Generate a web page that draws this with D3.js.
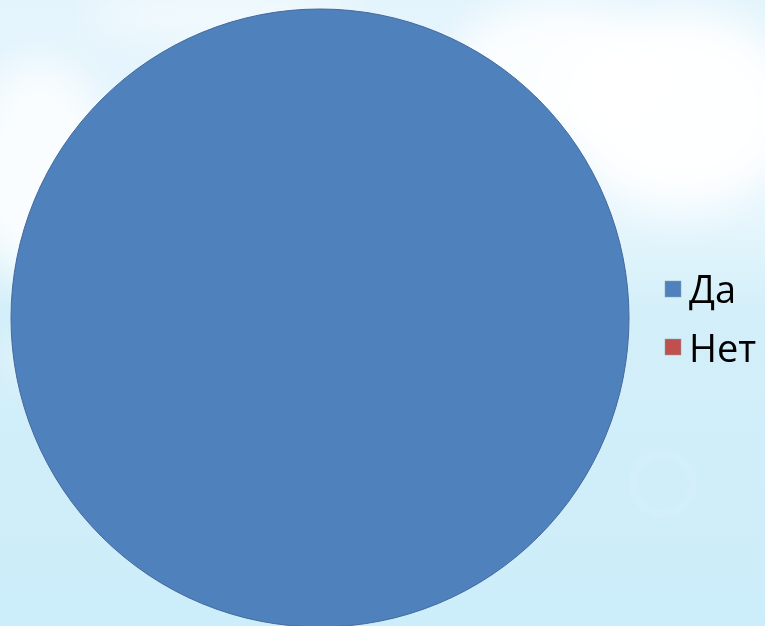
<!DOCTYPE html>
<html>
<head>
<meta charset="utf-8">
<script src="https://cdn.jsdelivr.net/npm/d3@7"></script>
<style>
html,body{margin:0;padding:0;overflow:hidden;}
svg{display:block;}
</style>
</head>
<body>
<div id="chart"></div>
<script>
const categories = ["Да", "Нет"];
const values = [100, 0];
const colors = ["#4f81bd", "#c0504d"];

const W = 765, H = 626;
const svg = d3.select("#chart").append("svg").attr("width", W).attr("height", H);
const defs = svg.append("defs");

// background sky
const bg = defs.append("linearGradient").attr("id", "sky").attr("x1", 0).attr("y1", 0).attr("x2", 0).attr("y2", 1);
bg.append("stop").attr("offset", "0%").attr("stop-color", "#e3f4fc");
bg.append("stop").attr("offset", "35%").attr("stop-color", "#e6f6fd");
bg.append("stop").attr("offset", "50%").attr("stop-color", "#d3eff9");
bg.append("stop").attr("offset", "100%").attr("stop-color", "#ccedfa");
svg.append("rect").attr("width", W).attr("height", H).attr("fill", "url(#sky)");

const blur = defs.append("filter").attr("id", "blur").attr("x", "-50%").attr("y", "-50%").attr("width", "200%").attr("height", "200%");
blur.append("feGaussianBlur").attr("stdDeviation", 20);
const blur2 = defs.append("filter").attr("id", "blur2").attr("x", "-50%").attr("y", "-50%").attr("width", "200%").attr("height", "200%");
blur2.append("feGaussianBlur").attr("stdDeviation", 3);

const clouds = svg.append("g").attr("filter", "url(#blur)");
[[680, 110, 120, 100, 0.95], [560, 70, 110, 70, 0.85], [40, 170, 70, 110, 0.8], [60, 360, 60, 25, 0.45], [220, 15, 140, 30, 0.5]].forEach(c => {
  clouds.append("ellipse").attr("cx", c[0]).attr("cy", c[1]).attr("rx", c[2]).attr("ry", c[3])
    .attr("fill", "#ffffff").attr("opacity", c[4]);
});
// faint bubble
svg.append("circle").attr("cx", 663).attr("cy", 484).attr("r", 30)
  .attr("fill", "none").attr("stroke", "#ffffff").attr("stroke-width", 3).attr("opacity", 0.3).attr("filter", "url(#blur2)");

// pie
const cx = 320, cy = 318, r = 309;
const pie = d3.pie().sort(null)(values);
const arc = d3.arc().innerRadius(0).outerRadius(r);
svg.append("g").attr("transform", `translate(${cx},${cy})`)
  .selectAll("path").data(pie).join("path")
  .attr("d", arc)
  .attr("fill", (d, i) => colors[i])
  .attr("stroke", "#44689a").attr("stroke-width", 1)
  .attr("stroke-opacity", d => d.value > 0 ? 1 : 0);

// legend
const legend = svg.append("g").attr("transform", "translate(665,281)");
const item = legend.selectAll("g").data(categories).join("g")
  .attr("transform", (d, i) => `translate(0,${i * 58})`);
item.append("rect").attr("width", 16).attr("height", 16).attr("fill", (d, i) => colors[i])
  .attr("stroke", "#8aa0b8").attr("stroke-width", 0.5);
item.append("text").attr("x", 24).attr("y", 22).attr("dy", (d, i) => i * 1)
  .attr("font-family", "'Open Sans', sans-serif").attr("font-size", 38)
  .attr("fill", "#000").text(d => d);
</script>
</body>
</html>
